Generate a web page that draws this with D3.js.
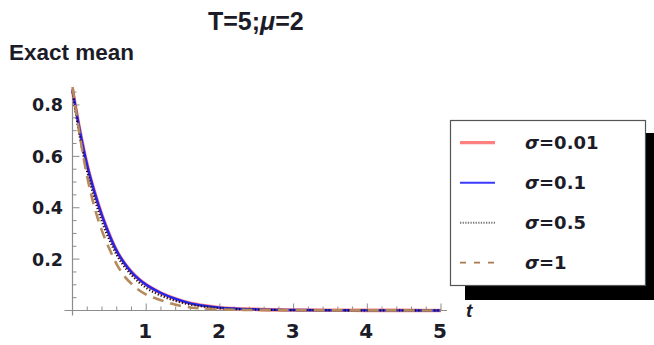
<!DOCTYPE html>
<html>
<head>
<meta charset="utf-8">
<script src="https://cdn.jsdelivr.net/npm/d3@7"></script>
<style>
  body { margin: 0; background: #fff; }
  svg { display: block; }
  .tick-label { font-family: "DejaVu Sans", sans-serif; font-weight: bold; fill: #1c1c28; }
</style>
</head>
<body>
<div id="container"></div>
<script>
// time points and the four mean curves
const tValues = [0, 0.1, 0.2, 0.3, 0.4, 0.5, 0.6, 0.7, 0.8, 0.9, 1.0, 1.2, 1.4, 1.6, 1.8, 2.0, 2.5, 3, 3.5, 4, 4.5, 5];
const sigma001 = [0.86, 0.70, 0.565, 0.46, 0.37, 0.295, 0.232, 0.186, 0.15, 0.122, 0.10, 0.068, 0.045, 0.028, 0.018, 0.011, 0.0045, 0.002, 0.001, 0.0006, 0.0003, 0.0002];
const sigma01 = [0.86, 0.70, 0.565, 0.46, 0.37, 0.295, 0.232, 0.186, 0.15, 0.122, 0.10, 0.068, 0.045, 0.028, 0.018, 0.011, 0.0045, 0.002, 0.001, 0.0006, 0.0003, 0.0002];
const sigma05 = [0.85, 0.675, 0.54, 0.435, 0.345, 0.275, 0.216, 0.172, 0.138, 0.11, 0.088, 0.058, 0.037, 0.023, 0.015, 0.009, 0.0035, 0.0017, 0.0009, 0.0005, 0.0003, 0.0002];
const sigma1 = [0.87, 0.68, 0.52, 0.40, 0.31, 0.24, 0.18, 0.135, 0.104, 0.08, 0.062, 0.04, 0.022, 0.012, 0.007, 0.004, 0.002, 0.001, 0.0006, 0.0004, 0.0003, 0.0002];
const legendLabels = ["0.01", "0.1", "0.5", "1"];
const xTicks = [1, 2, 3, 4, 5];
const yTicks = [0.2, 0.4, 0.6, 0.8];

const width = 654;
const height = 345;

let svg = d3
  .select("#container")
  .append("svg")
  .attr("width", width)
  .attr("height", height);

const x = d3.scaleLinear().domain([0, 5]).range([72.5, 441]);
const y = d3.scaleLinear().domain([0, 0.87]).range([310.5, 87]);

// title
let title = svg
  .append("text")
  .attr("x", 208)
  .attr("y", 30)
  .attr("font-family", "Liberation Sans, Arial, sans-serif")
  .attr("font-size", 25)
  .attr("font-weight", "bold")
  .attr("fill", "#1c1c28");
title.append("tspan").text("T=5;");
title.append("tspan").attr("font-style", "italic").text("\u03bc");
title.append("tspan").text("=2");

// y axis label
svg
  .append("text")
  .attr("x", 9)
  .attr("y", 60)
  .attr("font-family", "Liberation Sans, Arial, sans-serif")
  .attr("font-size", 22.5)
  .attr("font-weight", "bold")
  .attr("fill", "#1c1c28")
  .text("Exact mean");

// axes with inward ticks, mathematica style
const axisColor = "#8c8c8c";
let axes = svg.append("g");

axes
  .append("line")
  .attr("x1", x(0))
  .attr("x2", x(0))
  .attr("y1", y(0.87))
  .attr("y2", y(0) + 5)
  .attr("stroke", axisColor)
  .attr("stroke-width", 1.2);
axes
  .append("line")
  .attr("x1", x(0) - 8)
  .attr("x2", x(5) + 6)
  .attr("y1", y(0))
  .attr("y2", y(0))
  .attr("stroke", axisColor)
  .attr("stroke-width", 1.2);

// x ticks every 0.2, major every 1
const xMinor = d3.range(0.2, 5.01, 0.2);
axes
  .selectAll(".xt")
  .data(xMinor)
  .enter()
  .append("line")
  .attr("x1", (d) => x(d))
  .attr("x2", (d) => x(d))
  .attr("y1", y(0))
  .attr("y2", (d) => (Math.abs(d - Math.round(d)) < 1e-6 ? y(0) - 7 : y(0) - 4))
  .attr("stroke", axisColor)
  .attr("stroke-width", 1);

// y ticks every 0.05, major every 0.2
const yMinor = d3.range(0.05, 0.86, 0.05);
axes
  .selectAll(".yt")
  .data(yMinor)
  .enter()
  .append("line")
  .attr("x1", x(0))
  .attr("x2", (d) => (Math.abs(d * 5 - Math.round(d * 5)) < 1e-6 ? x(0) + 7 : x(0) + 4))
  .attr("y1", (d) => y(d))
  .attr("y2", (d) => y(d))
  .attr("stroke", axisColor)
  .attr("stroke-width", 1);

svg
  .selectAll(".xl")
  .data(xTicks)
  .enter()
  .append("text")
  .attr("class", "tick-label")
  .attr("x", (d) => x(d) - 1)
  .attr("y", 338)
  .attr("text-anchor", "middle")
  .attr("font-size", 20)
  .text((d) => d);

svg
  .selectAll(".yl")
  .data(yTicks)
  .enter()
  .append("text")
  .attr("class", "tick-label")
  .attr("x", 63)
  .attr("y", (d) => y(d) + 6.5)
  .attr("text-anchor", "end")
  .attr("font-size", 17.5)
  .text((d) => d.toFixed(1));

// axis label t
svg
  .append("text")
  .attr("x", 466)
  .attr("y", 317)
  .attr("font-family", "Liberation Sans, Arial, sans-serif")
  .attr("font-size", 19)
  .attr("font-weight", "bold")
  .attr("font-style", "italic")
  .attr("fill", "#1c1c28")
  .text("t");

// curves
const series = [
  { values: sigma001, color: "#ff8080", width: 3.6, dash: null },
  { values: sigma01, color: "#2424f0", width: 2.4, dash: null },
  { values: sigma05, color: "#111", width: 2.2, dash: "1.2,2" },
  { values: sigma1, color: "#b58a5c", width: 2.6, dash: "11,7" },
];

let line = d3
  .line()
  .x((d) => x(d[0]))
  .y((d) => y(d[1]))
  .curve(d3.curveMonotoneX);

for (let s of series) {
  let pts = tValues.map((t, i) => [t, s.values[i]]);
  let path = svg
    .append("path")
    .attr("d", line(pts))
    .attr("fill", "none")
    .attr("stroke", s.color)
    .attr("stroke-width", s.width);
  if (s.dash) path.attr("stroke-dasharray", s.dash);
}

// legend with drop shadow
let legend = svg.append("g");
legend
  .append("rect")
  .attr("x", 465)
  .attr("y", 133)
  .attr("width", 195)
  .attr("height", 167)
  .attr("fill", "#000");
legend
  .append("rect")
  .attr("x", 450.5)
  .attr("y", 120.5)
  .attr("width", 195)
  .attr("height", 165)
  .attr("fill", "#fff")
  .attr("stroke", "#555")
  .attr("stroke-width", 1.2);

const legendSamples = [
  { color: "#ff8080", width: 3.2, dash: null },
  { color: "#3a3aff", width: 2, dash: null },
  { color: "#777", width: 2, dash: "1.3,1.3" },
  { color: "#a87b4e", width: 1.8, dash: "6,8" },
];

for (let i = 0; i < legendLabels.length; i++) {
  let ly = 142.7 + i * 40;
  let sample = legend
    .append("line")
    .attr("x1", 460)
    .attr("x2", 495)
    .attr("y1", ly)
    .attr("y2", ly)
    .attr("stroke", legendSamples[i].color)
    .attr("stroke-width", legendSamples[i].width);
  if (legendSamples[i].dash) sample.attr("stroke-dasharray", legendSamples[i].dash);
  let txt = legend
    .append("text")
    .attr("x", 525)
    .attr("y", ly + 6)
    .attr("font-family", "DejaVu Sans, sans-serif")
    .attr("font-size", 18)
    .attr("font-weight", "bold")
    .attr("fill", "#1c1c28");
  txt.append("tspan").attr("font-style", "italic").text("\u03c3");
  txt.append("tspan").text("=" + legendLabels[i]);
}
</script>
</body>
</html>
